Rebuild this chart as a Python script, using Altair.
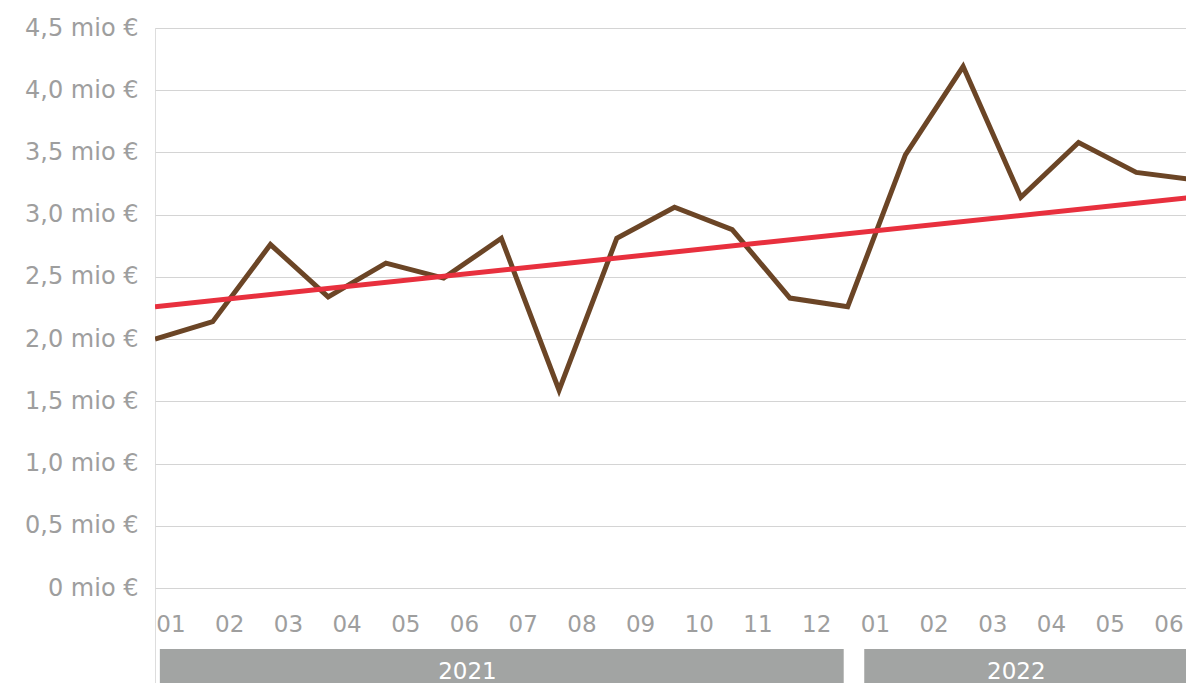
import altair as alt
import pandas as pd

# ---- data ----
values = [2.00, 2.14, 2.76, 2.34, 2.61, 2.49, 2.81, 1.59, 2.81, 3.06,
          2.88, 2.33, 2.26, 3.48, 4.19, 3.14, 3.58, 3.34, 3.28]
trend_start = 2.26
trend_end = 3.14
month_labels = ["01", "02", "03", "04", "05", "06", "07", "08", "09", "10",
                "11", "12", "01", "02", "03", "04", "05", "06"]
years = ["2021", "2022"]
year_first_month = [0, 12]
year_last_month = [11, 17]
year_label_month = [5.05, 14.4]
y_ticks = [0, 0.5, 1.0, 1.5, 2.0, 2.5, 3.0, 3.5, 4.0, 4.5]

FONT = "DejaVu Sans"
GRAY_TXT = "#9e9e9e"

W = 1031
H = 655
px_per_unit_y = 560 / 4.5
ymin = 4.5 - H / px_per_unit_y
px_per_unit_x = 1039 / 18
xmax = W / px_per_unit_x

# month-label axis: its own spacing relative to the data points
LAB_OFFSET = 16 / px_per_unit_x
LAB_STEP = 58.7 / px_per_unit_x


def lab(k):
    return LAB_OFFSET + k * LAB_STEP


line_df = pd.DataFrame({"i": list(range(len(values))), "v": values})
trend_df = pd.DataFrame({"i": [0, len(values) - 1], "v": [trend_start, trend_end]})
month_df = pd.DataFrame({"k": [lab(k) for k in range(len(month_labels))],
                         "label": month_labels,
                         "y": [-0.297] * len(month_labels)})
year_df = pd.DataFrame({
    "year": years,
    "x0": [lab(a - 0.19) for a in year_first_month],
    "x1": [min(lab(b + 0.46), xmax) for b in year_last_month],
    "xl": [lab(m) for m in year_label_month],
    "y0": [-0.49, -0.49],
    "y1": [ymin, ymin],
    "yl": [-0.675, -0.675],
})

yscale = alt.Scale(domain=[ymin, 4.5], nice=False, zero=False)
yaxis = alt.Axis(values=y_ticks, grid=True, gridColor="#d4d4d4", gridWidth=1,
                 domain=False, ticks=False,
                 labelFont=FONT, labelFontSize=24,
                 labelColor=GRAY_TXT, labelPadding=17, title=None,
                 labelExpr="datum.value == 0 ? '0 mio €' : replace(format(datum.value, '.1f'), '.', ',') + ' mio €'")
xscale = alt.Scale(domain=[0, xmax], nice=False, zero=False)

base_x = dict(scale=xscale, axis=None)

line = alt.Chart(line_df).mark_line(color="#6b4526", strokeWidth=5, clip=True).encode(
    x=alt.X("i:Q", **base_x),
    y=alt.Y("v:Q", scale=yscale, axis=yaxis),
)
trend = alt.Chart(trend_df).mark_line(color="#e8303e", strokeWidth=5, clip=True).encode(
    x=alt.X("i:Q", **base_x),
    y=alt.Y("v:Q", scale=yscale, axis=yaxis),
)
bars = alt.Chart(year_df).mark_rect(color="#a2a4a3").encode(
    x=alt.X("x0:Q", **base_x), x2="x1:Q",
    y=alt.Y("y0:Q", scale=yscale, axis=yaxis), y2="y1:Q",
)
year_txt = alt.Chart(year_df).mark_text(font=FONT, fontSize=23, color="white",
                                        baseline="middle", align="center").encode(
    x=alt.X("xl:Q", **base_x),
    y=alt.Y("yl:Q", scale=yscale, axis=yaxis),
    text="year:N",
)
month_txt = alt.Chart(month_df).mark_text(font=FONT, fontSize=23, color=GRAY_TXT,
                                          baseline="middle", align="center").encode(
    x=alt.X("k:Q", **base_x),
    y=alt.Y("y:Q", scale=yscale, axis=yaxis),
    text="label:N",
)

chart = alt.layer(bars, line, trend, year_txt, month_txt).properties(
    width=W, height=H,
    autosize=alt.AutoSizeParams(type="none"),
    padding={"left": 147, "top": 20, "right": 0, "bottom": 0},
).configure_view(strokeWidth=0).configure_axis(domain=False).configure(background="white")

chart.save("out.html", embed_options={"renderer": "svg", "actions": False})
